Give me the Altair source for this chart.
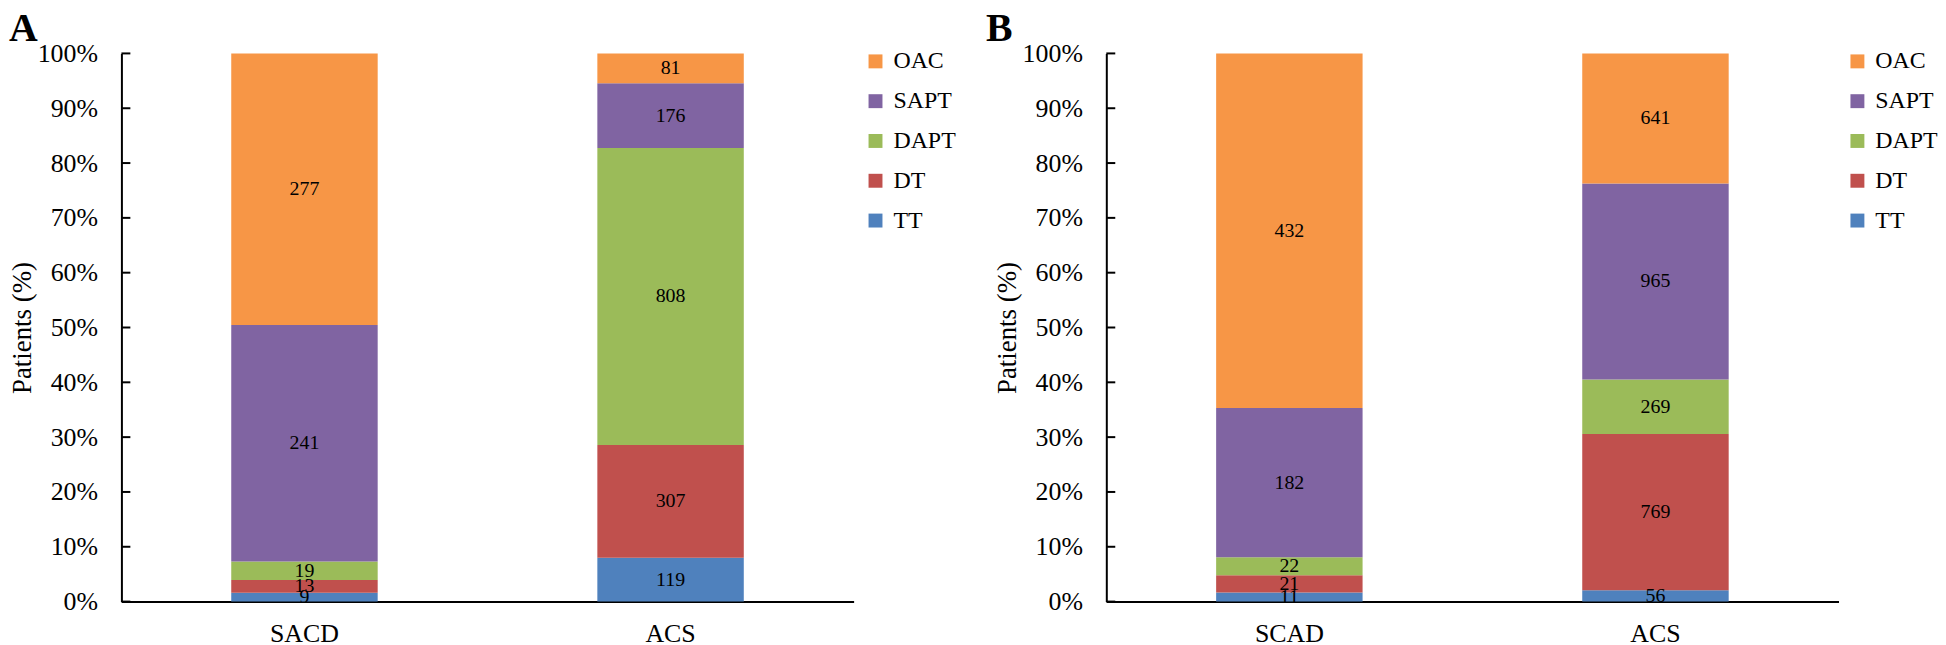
import altair as alt
import pandas as pd

# ---------------- data ----------------
series = ["TT", "DT", "DAPT", "SAPT", "OAC"]          # bottom -> top
legend_order = ["OAC", "SAPT", "DAPT", "DT", "TT"]
colors = ["#F79646", "#8064A2", "#9BBB59", "#C0504D", "#4F81BD"]

cats_a = ["SACD", "ACS"]
a_sacd = [9, 13, 19, 241, 277]
a_acs = [119, 307, 808, 176, 81]

cats_b = ["SCAD", "ACS"]
b_scad = [11, 21, 22, 182, 432]
b_acs = [56, 769, 269, 965, 641]

y_ticks = [0.0, 0.1, 0.2, 0.3, 0.4, 0.5, 0.6, 0.7, 0.8, 0.9, 1.0]
panel_letters = ["A", "B"]
y_title = "Patients (%)"

FONT = "Liberation Serif"
W, H = 736, 551


def make_df(cats, vals_list):
    rows = []
    for c, vals in zip(cats, vals_list):
        for i, (s, v) in enumerate(zip(series, vals)):
            rows.append({"group": c, "series": s, "idx": i, "n": v})
    return pd.DataFrame(rows)


def y_axis():
    return alt.Axis(
        values=y_ticks, format=".0%", title=y_title, grid=False, ticks=False,
        labelFont=FONT, labelFontSize=26, labelColor="black", labelPadding=24,
        domainColor="black", domainWidth=2, titleFont=FONT, titleFontSize=27,
        titleFontWeight="normal", titleColor="black", titlePadding=1,
    )


def panel(df, cats, letter, letter_dx, legend_x):
    yscale = alt.Scale(domain=[0, 1], nice=False)
    base = (
        alt.Chart(df)
        .transform_joinaggregate(total="sum(n)", groupby=["group"])
        .transform_calculate(pct="datum.n / datum.total")
        .transform_window(
            cum="sum(pct)",
            sort=[alt.SortField("idx", order="ascending")],
            groupby=["group"],
            frame=[None, 0],
        )
        .transform_calculate(lo="datum.cum - datum.pct", mid="datum.cum - datum.pct / 2")
    )
    x = alt.X(
        "group:N",
        sort=cats,
        scale=alt.Scale(paddingInner=0.6, paddingOuter=0.3),
        axis=alt.Axis(
            title=None, labelAngle=0, ticks=False, labelFont=FONT, labelFontSize=26,
            labelColor="black", domainColor="black", domainWidth=2, labelPadding=19,
        ),
    )
    bars = base.mark_bar().encode(
        x=x,
        y=alt.Y("lo:Q", scale=yscale, axis=y_axis()),
        y2="cum:Q",
        color=alt.Color(
            "series:N",
            scale=alt.Scale(domain=legend_order, range=colors),
            legend=alt.Legend(
                title=None, orient="none", legendX=legend_x, legendY=-4, direction="vertical",
                symbolType="square", symbolSize=196, symbolStrokeWidth=0,
                labelFont=FONT, labelFontSize=24, labelColor="black",
                rowPadding=16, labelOffset=6, padding=0,
            ),
        ),
    )
    labels = base.mark_text(font=FONT, fontSize=20, color="black", baseline="middle").encode(
        x=alt.X("group:N", sort=cats),
        y=alt.Y("mid:Q", scale=yscale, axis=y_axis()),
        text="n:Q",
    )
    ticks = (
        alt.Chart(pd.DataFrame({"v": y_ticks}))
        .mark_rule(color="black", strokeWidth=2)
        .encode(y=alt.Y("v:Q", scale=yscale, axis=y_axis()), x=alt.value(0), x2=alt.value(9))
    )
    let = (
        alt.Chart(pd.DataFrame({"t": [letter]}))
        .mark_text(font=FONT, fontSize=40, fontWeight="bold", align="left",
                   baseline="top", color="black")
        .encode(text="t:N", x=alt.value(letter_dx), y=alt.value(-44))
    )
    return alt.layer(bars, labels, ticks, let).properties(width=W, height=H)


pa = panel(make_df(cats_a, [a_sacd, a_acs]), cats_a, panel_letters[0], -113, 746)
pb = panel(make_df(cats_b, [b_scad, b_acs]), cats_b, panel_letters[1], -121, 743)

chart = (
    alt.hconcat(pa, pb, spacing=30)
    .resolve_scale(color="independent")
    .resolve_legend(color="independent")
    .configure_view(stroke=None)
    .properties(padding={"left": 0, "top": 0, "right": 0, "bottom": 0}, background="white")
)

chart.save("out.html", embed_options={"renderer": "svg", "actions": False})
